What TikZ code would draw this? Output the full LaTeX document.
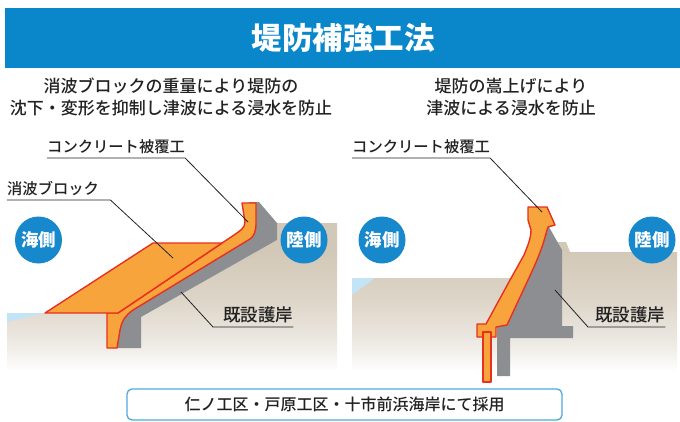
\documentclass[tikz,border=0pt]{standalone}
\usepackage{fontspec}
\newfontfamily\jp{Noto Sans CJK JP}
\newfontfamily\jpm{Noto Sans CJK JP Medium}

\definecolor{hdrblue}{HTML}{0A87CB}
\definecolor{dotblue}{HTML}{1688CB}
\definecolor{conc}{HTML}{F7A43D}
\definecolor{edge}{HTML}{E8301F}
\definecolor{wall}{HTML}{8D8E92}
\definecolor{sea}{HTML}{C3E4F5}
\definecolor{boxline}{HTML}{4FA7DC}
\definecolor{ink}{HTML}{222222}
\definecolor{gA}{HTML}{ECE8E2}
\definecolor{gB}{HTML}{DDD5C8}
\definecolor{gC}{HTML}{D2C8B7}

% soil: beige near the surface, fading to white with depth
\pgfdeclareverticalshading{groundfade}{100bp}{color(0bp)=(white); color(26bp)=(white); color(36.5bp)=(gA); color(49.7bp)=(gB); color(66bp)=(gC); color(100bp)=(gC)}

\begin{document}
\begin{tikzpicture}[x=1pt,y=-1pt,
  cjk/.style={font=\jpm, text=ink, inner sep=0pt},
  lbl/.style={cjk, font=\jpm\fontsize{15.3}{16}\selectfont, inner ysep=3pt, text depth=2pt, anchor=south west},
  lblbig/.style={cjk, font=\jpm\fontsize{17.5}{18}\selectfont, inner ysep=3pt, text depth=2pt, anchor=south west},
  subtitle/.style={cjk, font=\jpm\fontsize{17}{22}\selectfont, align=center},
  leader/.style={draw=ink, line width=0.8pt},
  concrete/.style={fill=conc, draw=edge, line width=1.4pt, line join=round},
  side/.style={circle, fill=dotblue, minimum size=47pt, inner sep=0pt, text=white, font=\jp\bfseries\fontsize{17.5}{18}\selectfont},
]
\useasboundingbox (0,0) rectangle (680,421);

% title band
\node[fill=hdrblue, minimum width=675pt, minimum height=60pt, inner sep=0pt, anchor=north west] (header) at (5,8) {};
\node[text=white, font=\jp\bfseries\fontsize{30.5}{30}\selectfont] (title) at (343,38) {堤防補強工法};

% captions
\node[subtitle] (subL) at (171,97) {消波ブロックの重量により堤防の\\沈下・変形を抑制し津波による浸水を防止};
\node[subtitle] (subR) at (511,97) {堤防の嵩上げにより\\津波による浸水を防止};

% ground of both sections
\begin{scope}
  \clip (7,313) -- (125,313) -- (141,317) -- (277,240) -- (277,223) -- (337,223) -- (337,375) -- (7,375) -- cycle
        (352,278) -- (540,278) -- (540,242) -- (566,242) -- (570,252) -- (677,252) -- (677,375) -- (352,375) -- cycle;
  \shade[shading=groundfade] (7,223) rectangle (677,375);
\end{scope}
\fill[sea] (7,313) -- (45,313) -- (7,322) -- cycle;
\fill[sea] (352,278) -- (375,278) -- (352,295) -- cycle;

% ---- left section: wave-dissipating blocks on the existing revetment
\fill[wall] (249,202) -- (259,202) -- (277,223) -- (277,240) -- (141,317) -- (141,348) -- (112,348) -- (112,320) -- (125,312) -- (242,237) -- (249,220) -- cycle;
\path[concrete] (242,203) -- (256,203) -- (256,223) .. controls (256,232) and (254,236) .. (250,239)
  -- (133,310) .. controls (126,315) and (122,320) .. (120,330) -- (117,348) -- (107,348) -- (107,313) -- (118,313)
  -- (234,235) .. controls (240,231) and (245,228) .. (245,222) -- cycle;
\path[concrete] (45,313) -- (153,243) -- (222,243) -- (118,313) -- cycle;

% ---- right section: raised parapet on the existing revetment
\fill[wall] (546,227) -- (549,227) -- (562,250) -- (562,326) -- (573,326) -- (573,338) -- (510,338) -- (510,376) -- (497,376) -- (497,327) -- (505,320) -- (520,290) -- (535,255) -- (545,229) -- cycle;
\path[concrete] (528,207) -- (547,207) -- (555,225) -- (548,227) -- (547,230)
  .. controls (542,250) and (535,265) .. (528,280) -- (507,325) -- (496,327) -- (496,337) -- (477,337) -- (477,324) -- (486,324)
  -- (510,280) -- (524,255) .. controls (528,245) and (531,238) .. (531,230) -- (528,220) -- cycle;
\path[concrete, line width=1.2pt] (483,332) rectangle (491,382);

% leader targets
\coordinate (tcovL) at (248,222);
\coordinate (tblk) at (173,258);
\coordinate (twallL) at (181,292);
\coordinate (tcovR) at (542,212);
\coordinate (twallR) at (555,290);

% labels with underlined leaders
\node[lbl] (lcovL) at (47,158) {コンクリート被覆工};
\draw[leader] (lcovL.south west) -- (lcovL.south east) -- (tcovL);
\node[lbl, text width=103pt, align=left] (lblk) at (7,200) {消波ブロック};
\draw[leader] (lblk.south west) -- (lblk.south east) -- (tblk);
\node[lblbig, text width=80pt, align=right] (lwallL) at (213,327) {既設護岸};
\draw[leader] (twallL) -- (lwallL.south west) -- (lwallL.south east);

\node[lbl] (lcovR) at (352,158) {コンクリート被覆工};
\draw[leader] (lcovR.south west) -- (lcovR.south east) -- (tcovR);
\node[lblbig, text width=77pt, align=right] (lwallR) at (588,327) {既設護岸};
\draw[leader] (twallR) -- (lwallR.south west) -- (lwallR.south east);

% sea / land markers
\node[side] (seaL) at (38.5,240) {海側};
\node[side] (landL) at (304,240) {陸側};
\node[side] (seaR) at (382,240) {海側};
\node[side] (landR) at (652,240) {陸側};

% note
\node[draw=boxline, line width=1.3pt, rounded corners=5pt, minimum width=435pt, minimum height=31pt, inner sep=0pt,
      text=ink, font=\jpm\fontsize{16}{16}\selectfont] (note) at (344.5,404.5) {仁ノ工区・戸原工区・十市前浜海岸にて採用};
\end{tikzpicture}
\end{document}
